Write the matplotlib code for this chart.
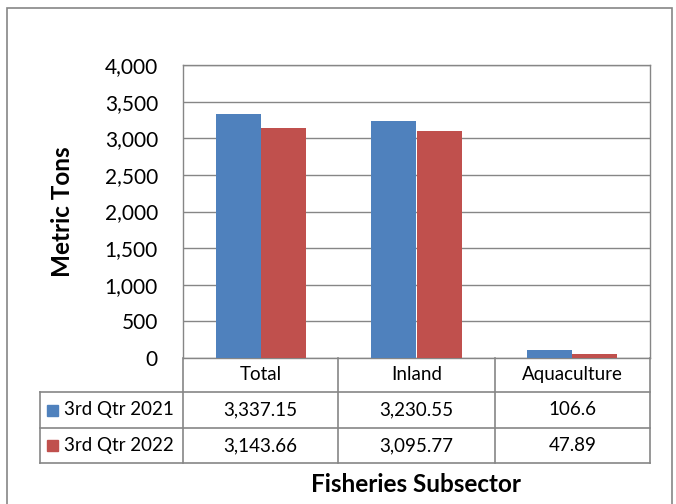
import matplotlib.pyplot as plt
import numpy as np

subsectors = ["Total", "Inland", "Aquaculture"]
series_names = ["3rd Qtr 2021", "3rd Qtr 2022"]
qtr_2021 = [3337.15, 3230.55, 106.6]
qtr_2022 = [3143.66, 3095.77, 47.89]
table_2021 = ["3,337.15", "3,230.55", "106.6"]
table_2022 = ["3,143.66", "3,095.77", "47.89"]
yticks = [0, 500, 1000, 1500, 2000, 2500, 3000, 3500, 4000]

blue = "#4F81BD"
red = "#C0504D"
gray = "#868686"
plt.rcParams["font.family"] = ["Lato", "DejaVu Sans"]

W, H = 676, 504
fig = plt.figure(figsize=(W / 100, H / 100), dpi=100)


def box(x0, y0, x1, y1):
    # pixel box (top-left origin) -> figure rect
    return [x0 / W, 1 - y1 / H, (x1 - x0) / W, (y1 - y0) / H]


# outer chart border
fig.add_artist(plt.Rectangle((7 / W, -0.01), (672 - 7) / W, 1 - 8 / H + 0.01,
                             transform=fig.transFigure, fill=False,
                             edgecolor=gray, linewidth=1.2))

ax = fig.add_axes(box(183, 65, 650, 358))
x = np.arange(len(subsectors))
w = 0.29
ax.bar(x - w / 2, qtr_2021, w, color=blue, zorder=3)
ax.bar(x + w / 2, qtr_2022, w, color=red, zorder=3)
ax.set_xlim(-0.5, len(subsectors) - 0.5)
ax.set_ylim(0, 4000)
ax.set_yticks(yticks)
ax.set_yticklabels([f"{v:,}" for v in yticks], fontsize=15)
ax.tick_params(axis="y", length=0, pad=18)
ax.set_xticks([])
ax.yaxis.grid(True, color=gray, linewidth=1)
for s in ax.spines.values():
    s.set_color(gray)
    s.set_linewidth(1)
ax.set_ylabel("Metric Tons", fontsize=17.5, fontweight="bold", labelpad=22)

# data table below the plot
tx = fig.add_axes(box(40, 358, 650, 463))
tx.set_xlim(40, 650)
tx.set_ylim(463, 358)
tx.axis("off")
cols = [183, 338, 495, 650]
rows = [358, 392, 428, 463]
lk = dict(color=gray, linewidth=1.2, clip_on=False)
for c in cols:
    tx.plot([c, c], [rows[0], rows[-1]], **lk)
tx.plot([40, 40], [rows[1], rows[-1]], **lk)
for r in rows[1:]:
    tx.plot([40, 650], [r, r], **lk)
fs = 13.5
for i, name in enumerate(subsectors):
    cx = (cols[i] + cols[i + 1]) / 2
    ry = (rows[0] + rows[1]) / 2
    tx.text(cx, ry, name, ha="center", va="center", fontsize=fs)
    tx.text(cx, (rows[1] + rows[2]) / 2, table_2021[i], ha="center", va="center", fontsize=fs)
    tx.text(cx, (rows[2] + rows[3]) / 2, table_2022[i], ha="center", va="center", fontsize=fs)
for j, (name, col) in enumerate(zip(series_names, [blue, red])):
    cy = (rows[j + 1] + rows[j + 2]) / 2
    tx.add_patch(plt.Rectangle((47, cy - 5), 11, 11, color=col, clip_on=False))
    tx.text(64, cy, name, ha="left", va="center", fontsize=fs)

fig.text(416 / W, 1 - 485 / H, "Fisheries Subsector", ha="center", va="center",
         fontsize=17.5, fontweight="bold")

fig.savefig("out.png", dpi=100)
